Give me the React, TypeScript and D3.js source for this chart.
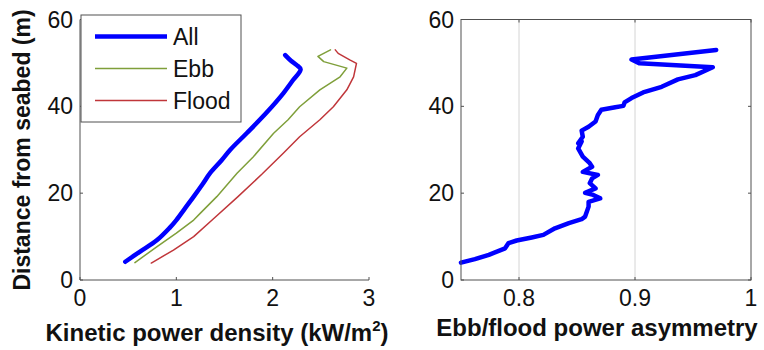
import React from "react";
import * as d3 from "d3";

// Kinetic power density profiles (kW/m^2) versus height above seabed (m)
const allPower = [0.47, 0.62, 0.8, 0.93, 1.0, 1.09, 1.18, 1.27, 1.35, 1.47, 1.56, 1.73, 1.93, 2.11, 2.21, 2.29, 2.25, 2.19, 2.13];
const allDepth = [4.2, 6.5, 9.2, 12.0, 13.8, 16.5, 19.2, 22.0, 24.6, 27.6, 30.0, 33.8, 38.4, 43.0, 46.0, 48.5, 49.5, 50.5, 51.8];

const ebbPower = [0.57, 0.8, 1.0, 1.18, 1.25, 1.42, 1.63, 1.8, 2.01, 2.16, 2.28, 2.49, 2.7, 2.77, 2.53, 2.47, 2.6];
const ebbDepth = [4.0, 7.7, 10.8, 13.8, 15.4, 19.2, 24.6, 28.4, 33.8, 36.9, 39.9, 43.8, 46.8, 48.8, 50.3, 51.5, 53.0];

const floodPower = [0.74, 0.97, 1.18, 1.38, 1.64, 1.89, 2.11, 2.28, 2.49, 2.63, 2.77, 2.84, 2.87, 2.8, 2.68, 2.65];
const floodDepth = [3.9, 6.9, 10.0, 14.0, 19.2, 24.4, 29.2, 33.0, 36.9, 39.9, 43.8, 46.8, 49.9, 50.7, 52.2, 53.0];

// Ebb/flood power asymmetry profile
const asymRatio = [0.75, 0.762, 0.774, 0.788, 0.791, 0.798, 0.811, 0.821, 0.831, 0.843, 0.854, 0.857, 0.86, 0.86, 0.87, 0.864, 0.857, 0.866, 0.861, 0.863, 0.868, 0.855, 0.863, 0.861, 0.855, 0.851, 0.854, 0.851, 0.855, 0.854, 0.86, 0.866, 0.868, 0.871, 0.883, 0.89, 0.891, 0.897, 0.907, 0.923, 0.937, 0.952, 0.967, 0.904, 0.897, 0.97];
const asymDepth = [4.0, 4.8, 5.8, 7.3, 8.5, 9.1, 9.8, 10.4, 11.9, 13.1, 14.0, 14.6, 16.9, 18.0, 18.8, 19.6, 20.1, 21.1, 22.3, 23.4, 24.2, 24.9, 26.1, 26.9, 28.4, 30.3, 31.9, 31.5, 33.0, 34.4, 35.3, 36.5, 38.0, 39.2, 39.8, 40.1, 40.9, 41.9, 43.2, 44.5, 46.2, 47.2, 49.0, 49.9, 50.8, 53.0];

const depthTicks = [0, 20, 40, 60];
const powerTicks = [0, 1, 2, 3];
const asymTicks = [0.8, 0.9, 1];

const seriesNames = ["All", "Ebb", "Flood"];
const seriesColors = ["#0000ff", "#7f9f3a", "#c0363a"];
const seriesWidths = [4.5, 1.5, 1.5];

const FONT = "'Liberation Sans', Arial, Helvetica, sans-serif";
const AXIS = "#505050";
const TICK_SIZE = 23;
const LABEL_SIZE = 24;

export default function App() {
  const yScale = d3.scaleLinear().domain([0, 60]).range([280, 19.5]);
  const xLeft = d3.scaleLinear().domain([0, 3]).range([80, 369]);
  const xRight = d3.scaleLinear().domain([0.75, 1]).range([461, 751]);

  const profile = (
    xs: number[],
    ys: number[],
    sx: d3.ScaleLinear<number, number>,
    curve: d3.CurveFactory
  ) =>
    d3
      .line<number>()
      .x((i) => sx(xs[i]))
      .y((i) => yScale(ys[i]))
      .curve(curve)(xs.map((_, i) => i)) as string;

  const smooth = d3.curveCatmullRom.alpha(0.5);
  const leftSeries = [
    profile(allPower, allDepth, xLeft, smooth),
    profile(ebbPower, ebbDepth, xLeft, d3.curveLinear),
    profile(floodPower, floodDepth, xLeft, d3.curveLinear),
  ];
  const asymPath = profile(asymRatio, asymDepth, xRight, d3.curveLinear);

  const [y0, y1] = yScale.range();
  const tick = 3;

  return (
    <svg
      width={764}
      height={350}
      style={{ position: "absolute", left: 0, top: 0, background: "#fff" }}
      fontFamily={FONT}
    >
      {/* Left panel: kinetic power density */}
      <g>
        {leftSeries
          .map((d, i) => (
            <path key={i} d={d} fill="none" stroke={seriesColors[i]} strokeWidth={seriesWidths[i]} strokeLinejoin="round" strokeLinecap="round" />
          ))
          .reverse()}
        <line x1={xLeft(0)} x2={xLeft(3)} y1={y0} y2={y0} stroke={AXIS} strokeWidth={1} />
        <line x1={xLeft(0)} x2={xLeft(0)} y1={y0} y2={y1} stroke={AXIS} strokeWidth={1} />
        {powerTicks.map((t) => (
          <g key={t}>
            <line x1={xLeft(t)} x2={xLeft(t)} y1={y0} y2={y0 - tick} stroke={AXIS} />
            <text x={xLeft(t)} y={306} fontSize={TICK_SIZE} textAnchor="middle" fill="#111">
              {t}
            </text>
          </g>
        ))}
        {depthTicks.map((t) => (
          <g key={t}>
            <line x1={xLeft(0)} x2={xLeft(0) + tick} y1={yScale(t)} y2={yScale(t)} stroke={AXIS} />
            <text x={73} y={yScale(t) + 8} fontSize={TICK_SIZE} textAnchor="end" fill="#111">
              {t}
            </text>
          </g>
        ))}
        {/* Legend */}
        <rect x={81} y={15} width={160} height={107} fill="#fff" stroke={AXIS} strokeWidth={1} />
        {seriesNames.map((name, i) => {
          const ly = 36.5 + i * 32;
          return (
            <g key={name}>
              <line x1={95} x2={167} y1={ly} y2={ly} stroke={seriesColors[i]} strokeWidth={seriesWidths[i]} />
              <text x={173} y={ly + 8} fontSize={TICK_SIZE} fill="#111">
                {name}
              </text>
            </g>
          );
        })}
        <text x={217} y={341} fontSize={LABEL_SIZE} fontWeight="bold" textAnchor="middle" fill="#111">
          Kinetic power density (kW/m<tspan fontSize={15} dy={-10}>2</tspan>
          <tspan dy={10}>)</tspan>
        </text>
        <text
          transform="translate(30,150) rotate(-90)"
          fontSize={23}
          fontWeight="bold"
          textAnchor="middle"
          fill="#111"
        >
          Distance from seabed (m)
        </text>
      </g>

      {/* Right panel: ebb/flood asymmetry */}
      <g>
        {asymTicks.slice(0, 2).map((t) => (
          <line key={t} x1={xRight(t)} x2={xRight(t)} y1={y0} y2={y1} stroke="#d4d4d4" strokeWidth={1} />
        ))}
        <path d={asymPath} fill="none" stroke="#0000ff" strokeWidth={4.5} strokeLinejoin="round" strokeLinecap="round" />
        <rect x={xRight(0.75)} y={y1} width={xRight(1) - xRight(0.75)} height={y0 - y1} fill="none" stroke={AXIS} strokeWidth={1} />
        {asymTicks.map((t) => (
          <g key={t}>
            <line x1={xRight(t)} x2={xRight(t)} y1={y0} y2={y0 - tick} stroke={AXIS} />
            <line x1={xRight(t)} x2={xRight(t)} y1={y1} y2={y1 + tick} stroke={AXIS} />
            <text x={xRight(t)} y={306} fontSize={TICK_SIZE} textAnchor="middle" fill="#111">
              {t}
            </text>
          </g>
        ))}
        {depthTicks.map((t) => (
          <g key={t}>
            <line x1={xRight(0.75)} x2={xRight(0.75) + tick} y1={yScale(t)} y2={yScale(t)} stroke={AXIS} />
            <line x1={xRight(1)} x2={xRight(1) - tick} y1={yScale(t)} y2={yScale(t)} stroke={AXIS} />
            <text x={454} y={yScale(t) + 8} fontSize={TICK_SIZE} textAnchor="end" fill="#111">
              {t}
            </text>
          </g>
        ))}
        <text x={597} y={336} fontSize={LABEL_SIZE} fontWeight="bold" textAnchor="middle" fill="#111">
          Ebb/flood power asymmetry
        </text>
      </g>
    </svg>
  );
}
